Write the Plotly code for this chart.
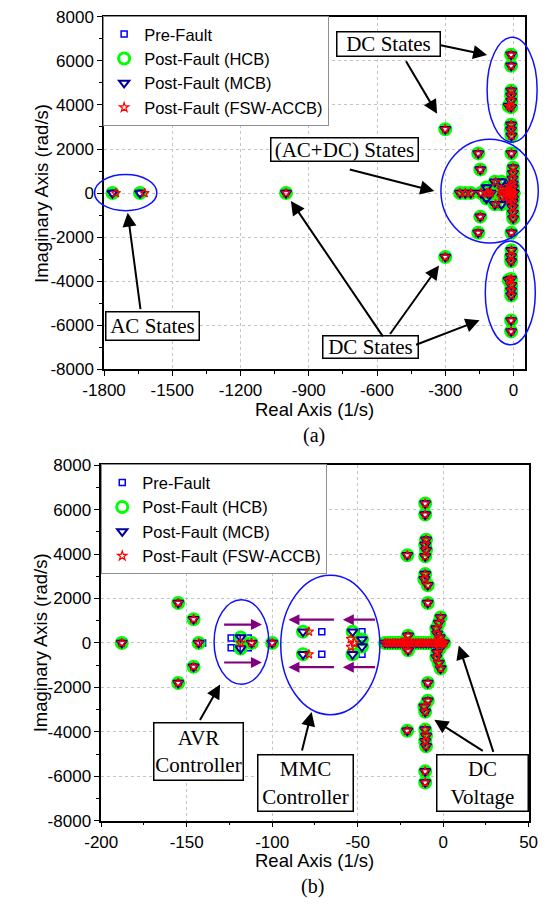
import plotly.graph_objects as go

W, H = 548, 909

# ------------------------------------------------------------------ data
# poles shared by every case (real part 1/s, imaginary part rad/s)
common_re = [-1000, -300, -300, -235, -212, -188, -155, -155, -146, -146, -100,
             -10.5, -10.5, -10, -10.5, -10, -10.5, -10.5, -11, -9, -9,
             -10.5, -10.5, -10, -10.5, -10, -10.5, -10.5, -11, -9, -9,
             -21, -21, -20.5, -20.5,
             -1.5, -2.5, -4, -3.5, -2, -1.5, -2.5, -4, -3.5, -2,
             -34, -32.5, -31, -29.5, -28, -26.5, -25, -23.5, -22, -20.5, -19,
             -17.5, -16, -14.5, -13, -11.5, -10, -8.5, -7, -5.5, -4.5, -3.5,
             -2.5, -1.8, -1.2, -0.6, 0, 0.6]
common_im = [0, 2900, -2900, 0, 0, 0, 1800, -1800, 1070, -1070, 0,
             6280, 5780, 4650, 4420, 4180, 3900, 3100, 2870, 2600, 1800,
             -6280, -5780, -4650, -4420, -4180, -3900, -3100, -2870, -2600, -1800,
             3950, -3950, 330, -330,
             1150, 900, 650, 420, 250, -1150, -900, -650, -420, -250,
             0, 0, 0, 0, 0, 0, 0, 0, 0, 0, 0,
             0, 0, 0, 0, 0, 0, 0, 0, 0, 0, 0,
             0, 0, 0, 0, 0, 0]

# poles specific to the pre-fault case
pre_extra_re = [-1763, -1642, -140.7, -124, -124, -120.5, -120.5, -114, -114,
                -71, -71, -47.5, -47.5]
pre_extra_im = [0, 0, 0, 220, -220, 220, -220, 220, -220,
                510, -510, 510, -510]

# poles specific to the post-fault HCB / MCB cases
hcb_extra_re = [-1763, -1642, -143, -118.5, -118.5, -112,
                -82, -82, -53, -53, -47.5, -47.5]
hcb_extra_im = [0, 0, 0, 250, -250, 0,
                510, -510, 510, -510, 160, -160]
mcb_extra_re = [-1763, -1642, -143, -118.5, -118.5, -112,
                -82, -82, -53, -53, -47.5, -47.5]
mcb_extra_im = [0, 0, 0, 250, -250, 0,
                510, -510, 510, -510, 160, -160]

# poles specific to the post-fault FSW-ACCB case
fsw_extra_re = [-1748, -1622, -143, -118.5, -112,
                -78.5, -78.5, -54, -54, -52, -22, -22]
fsw_extra_im = [0, 0, 0, 0, 0,
                510, -510, 180, -180, 0, 150, -150]

series_names = ["Pre-Fault", "Post-Fault (HCB)", "Post-Fault (MCB)",
                "Post-Fault (FSW-ACCB)"]

top_xticks = [-1800, -1500, -1200, -900, -600, -300, 0]
top_xtext = ["-1800", "-1500", "-1200", "-900", "-600", "-300", "0"]
bot_xticks = [-200, -150, -100, -50, 0, 50]
bot_xtext = ["-200", "-150", "-100", "-50", "0", "50"]
yticks = [-8000, -6000, -4000, -2000, 0, 2000, 4000, 6000, 8000]
ytext = ["-8000", "-6000", "-4000", "-2000", "0", "2000", "4000", "6000", "8000"]

# purple migration arrows in panel (b): tail_x, tail_y, tip_x, tip_y
purple_arrows = [(-129, 830, -106, 830), (-129, -880, -106, -880),
                 (-63, 1050, -90.5, 1050), (-39, 1050, -58.7, 1050),
                 (-63, -1090, -90.5, -1090), (-39, -1090, -58.7, -1090)]

# ------------------------------------------------------------------ build
pre_re = common_re + pre_extra_re
pre_im = common_im + pre_extra_im
hcb_re = common_re + hcb_extra_re
hcb_im = common_im + hcb_extra_im
mcb_re = common_re + mcb_extra_re
mcb_im = common_im + mcb_extra_im
fsw_re = common_re + fsw_extra_re
fsw_im = common_im + fsw_extra_im

styles = [
    dict(symbol="square-open", color="#0000ff", size=6, line=dict(width=1.5, color="#0000ff")),
    dict(symbol="circle-open", color="#00ff00", size=11, line=dict(width=3, color="#00ff00")),
    dict(symbol="triangle-down-open", color="#000099", size=9, line=dict(width=2, color="#000099")),
    dict(symbol="star-open", color="#ff0000", size=7, line=dict(width=1.2, color="#ff0000")),
]
data_sets = [(pre_re, pre_im), (hcb_re, hcb_im), (mcb_re, mcb_im), (fsw_re, fsw_im)]

fig = go.Figure()
for (xa, ya, leg) in [("x", "y", "legend"), ("x2", "y2", "legend2")]:
    for name, (re, im), st in zip(series_names, data_sets, styles):
        fig.add_trace(go.Scatter(x=re, y=im, mode="markers", name=name,
                                 marker=st, xaxis=xa, yaxis=ya, legend=leg))

SANS = "Liberation Sans, Arial, sans-serif"
SERIF = "Liberation Serif, Times New Roman, serif"

def axis_style(**kw):
    d = dict(showline=True, linecolor="black", linewidth=1.5, mirror=True,
             ticks="outside", ticklen=5, tickwidth=1.2, tickcolor="black",
             showgrid=True, gridcolor="#c4c4c4", griddash="dot", gridwidth=1,
             zeroline=False, tickfont=dict(family=SANS, size=17, color="black"),
             tickmode="array")
    d.update(kw)
    return d

top_xr = [-1800, 50]
top_yr = [-8000, 8000]
fig.update_layout(
    width=W, height=H, margin=dict(l=0, r=0, t=0, b=0),
    paper_bgcolor="white", plot_bgcolor="white",
    xaxis=axis_style(domain=[87 / W, 533 / W], range=top_xr, anchor="y",
                     tickvals=top_xticks, ticktext=top_xtext,
                     minor=dict(ticks="outside", ticklen=3, tickcolor="black",
                                dtick=150, tick0=0, showgrid=False)),
    yaxis=axis_style(domain=[1 - 368 / H, 1 - 8 / H], range=top_yr, anchor="x",
                     tickvals=yticks, ticktext=ytext,
                     minor=dict(ticks="outside", ticklen=3, tickcolor="black",
                                dtick=1000, tick0=0, showgrid=False)),
    xaxis2=axis_style(domain=[84 / W, 537 / W], range=[-200, 50], anchor="y2",
                      tickvals=bot_xticks, ticktext=bot_xtext,
                      minor=dict(ticks="outside", ticklen=3, tickcolor="black",
                                 dtick=25, tick0=0, showgrid=False)),
    yaxis2=axis_style(domain=[1 - 829 / H, 1 - 466 / H], range=[-8000, 8000], anchor="x2",
                      tickvals=yticks, ticktext=ytext,
                      minor=dict(ticks="outside", ticklen=3, tickcolor="black",
                                 dtick=1000, tick0=0, showgrid=False)),
    legend=dict(x=86 / W, y=1 - 7 / H, xanchor="left", yanchor="top",
                bgcolor="white", bordercolor="#909090", borderwidth=1,
                font=dict(family=SANS, size=16.5, color="black"), tracegroupgap=0),
    legend2=dict(x=84 / W, y=1 - 465 / H, xanchor="left", yanchor="top",
                 bgcolor="white", bordercolor="#909090", borderwidth=1,
                 font=dict(family=SANS, size=16.5, color="black"), tracegroupgap=0),
    showlegend=True,
)

# ---- ellipses
def dom(v, r):
    return (v - r[0]) / (r[1] - r[0])

top_ellipses = [(-1705, 20, 137, 820), (-105, 90, 214, 2355),
                (-6, 4690, 110, 2378), (-14, -4533, 110, 2355)]
shapes = []
for cx, cy, a, b in top_ellipses:
    shapes.append(dict(type="circle", xref="x domain", yref="y domain",
                       x0=dom(cx - a, top_xr), x1=dom(cx + a, top_xr),
                       y0=dom(cy - b, top_yr), y1=dom(cy + b, top_yr),
                       line=dict(color="#1010ff", width=1.5), layer="above"))
bot_ellipses = [(-118, 45, 16, 1900), (-66, -90, 29, 3140)]
for cx, cy, a, b in bot_ellipses:
    shapes.append(dict(type="circle", xref="x2", yref="y2",
                       x0=cx - a, x1=cx + a, y0=cy - b, y1=cy + b,
                       line=dict(color="#1010ff", width=1.5), layer="above"))
fig.update_layout(shapes=shapes)

# ---- annotations
ann = []

def box(text, cx, cy, w, h, size=21):
    ann.append(dict(text=text, x=cx / W, y=1 - cy / H, xref="paper", yref="paper",
                    xanchor="center", yanchor="middle", showarrow=False,
                    font=dict(family=SERIF, size=size, color="black"),
                    bordercolor="black", borderwidth=1.5, bgcolor="white",
                    borderpad=0, width=w - 3, height=h - 3))

def arrow(tail, tip, color="black", width=2):
    ann.append(dict(text="", x=tip[0] / W, y=1 - tip[1] / H, xref="paper", yref="paper",
                    ax=tail[0] - tip[0], ay=tail[1] - tip[1], axref="pixel", ayref="pixel",
                    showarrow=True, arrowhead=2, arrowsize=1.4, arrowwidth=width,
                    arrowcolor=color, standoff=0, startstandoff=0))

def label(text, cx, cy, size=18.5, angle=0, family=SANS):
    ann.append(dict(text=text, x=cx / W, y=1 - cy / H, xref="paper", yref="paper",
                    xanchor="center", yanchor="middle", showarrow=False, textangle=angle,
                    font=dict(family=family, size=size, color="black")))

# panel (a)
box("DC States", 388, 36, 105, 26)
box("(AC+DC) States", 342, 144, 149, 25)
box("AC States", 138, 324, 95, 30)
box("DC States", 369, 345, 97, 24)
arrow((445, 37), (493, 47))
arrow((408, 53), (440, 107))
arrow((351, 164), (437, 186))
arrow((125, 306), (112, 208))
arrow((378, 333), (285, 196))
arrow((392, 332), (442, 262))
arrow((420, 343), (485, 318))

# panel (b)
box("AVR<br>Controller", 187, 758, 91, 59)
box("MMC<br>Controller", 300, 791, 97, 58)
box("DC<br>Voltage", 488, 791, 93, 58)
arrow((189, 727), (210, 690))
arrow((297, 758), (307, 718))
arrow((487, 758), (437, 726))
arrow((498, 758), (463, 650))

for tx, ty, hx, hy in purple_arrows:
    ann.append(dict(text="", x=hx, y=hy, xref="x2", yref="y2", ax=tx, ay=ty,
                    axref="x2", ayref="y2", showarrow=True, arrowhead=2,
                    arrowsize=1.0, arrowwidth=2.2, arrowcolor="#800080",
                    standoff=0, startstandoff=0))

# axis titles & panel labels
label("Imaginary Axis (rad/s)", 20, 188, angle=-90)
label("Imaginary Axis (rad/s)", 20, 647, angle=-90)
label("Real Axis (1/s)", 310, 409)
label("Real Axis (1/s)", 310, 870)
label("(a)", 310, 436, size=20, family=SERIF)
label("(b)", 308, 896, size=20, family=SERIF)

fig.update_layout(annotations=ann)

fig.write_html("out.html")
